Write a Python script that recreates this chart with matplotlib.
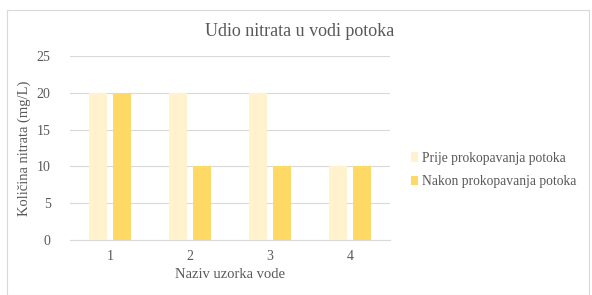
import matplotlib
matplotlib.use("Agg")
import matplotlib.pyplot as plt
from matplotlib.patches import Rectangle
import numpy as np

# data
categories = ["1", "2", "3", "4"]
prije = [20, 20, 20, 10]
nakon = [20, 10, 10, 10]
series_names = ["Prije prokopavanja potoka", "Nakon prokopavanja potoka"]

plt.rcParams['font.family'] = ['Liberation Serif', 'DejaVu Serif']
txt = '#595959'

fig = plt.figure(figsize=(5.92, 2.95), dpi=100)
# chart border
fig.patches.append(Rectangle((7/592, 0), 582/592, 1 - 10/295, transform=fig.transFigure,
                             fill=False, edgecolor='#d9d9d9', linewidth=0.8))

ax = fig.add_axes([70/592, 1 - 240/295, 320/592, 184/295])
x = np.arange(len(categories))
w = 0.225
ax.bar(x - 0.145, prije, w, color='#FFF2CC', label=series_names[0], zorder=3)
ax.bar(x + 0.145, nakon, w, color='#FFD966', label=series_names[1], zorder=3)

ax.set_ylim(0, 25)
ax.set_xlim(-0.5, 3.5)
ax.set_yticks([0, 5, 10, 15, 20, 25])
ax.set_xticks(x)
ax.set_xticklabels(categories)
ax.yaxis.grid(True, color='#d9d9d9', linewidth=0.8, zorder=0)
for s in ['top', 'right', 'left']:
    ax.spines[s].set_visible(False)
ax.spines['bottom'].set_color('#d9d9d9')
ax.tick_params(axis='both', length=0, colors=txt, labelsize=10)
ax.tick_params(axis='y', pad=14)
ax.tick_params(axis='x', pad=7)

ax.set_xlabel("Naziv uzorka vode", color=txt, fontsize=10.5, labelpad=4)
ax.set_ylabel("Količina nitrata (mg/L)", color=txt, fontsize=10.5, labelpad=4)
fig.text(300/592, 1 - 32/295, "Udio nitrata u vodi potoka", ha='center', va='center',
         color=txt, fontsize=13)

leg = fig.legend(loc='center left', bbox_to_anchor=(399/592, 1 - 170/295), frameon=False,
                 fontsize=9.8, handlelength=0.5, handleheight=0.7, handletextpad=0.3,
                 labelspacing=0.75)
for t in leg.get_texts():
    t.set_color(txt)

fig.savefig("out.png", dpi=100)
